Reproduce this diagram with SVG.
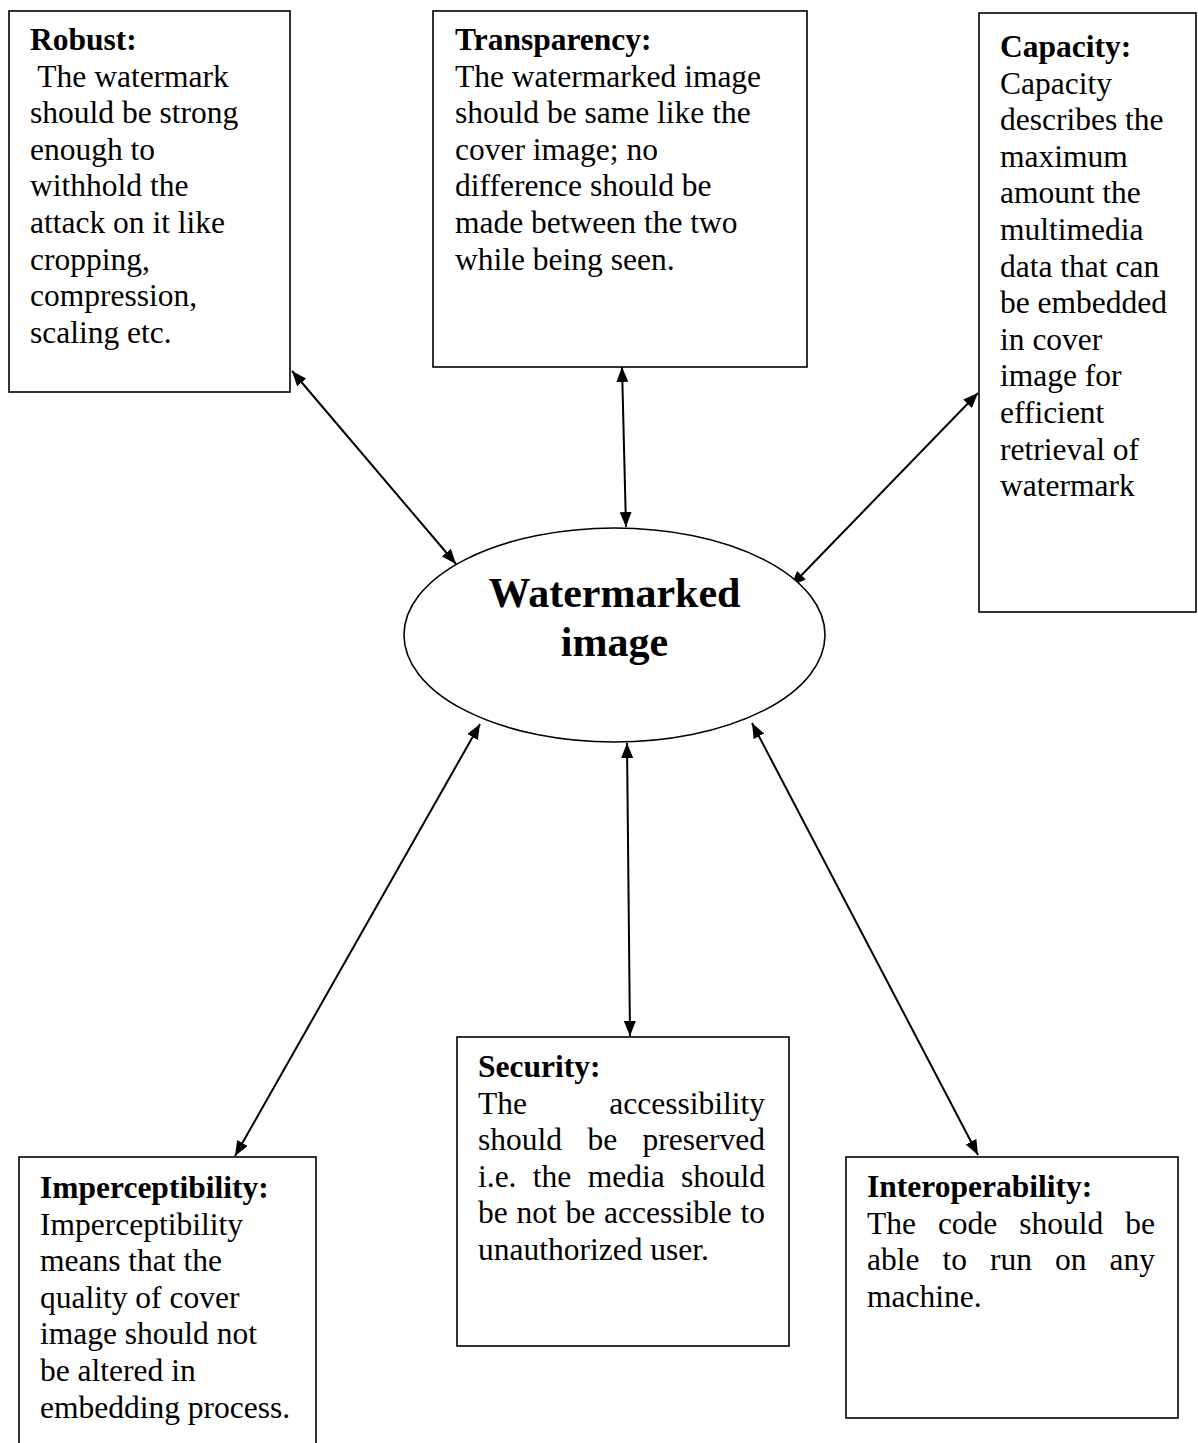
<svg xmlns="http://www.w3.org/2000/svg" width="1198" height="1443" viewBox="0 0 1198 1443">
<style>
  .box { fill: #fff; stroke: #000; stroke-width: 1.6; }
  .t { font-family: "Liberation Serif", "Times New Roman", serif; font-size: 31.5px; fill: #000; }
  .b { font-weight: bold; }
  .big { font-family: "Liberation Serif", "Times New Roman", serif; font-size: 42px; font-weight: bold; fill: #000; text-anchor: middle; }
  .conn { stroke: #000; stroke-width: 2; fill: none; marker-start: url(#ah); marker-end: url(#ah); }
</style>
<defs>
  <marker id="ah" markerUnits="userSpaceOnUse" markerWidth="15" markerHeight="12" viewBox="0 0 15 12" refX="15" refY="6" orient="auto-start-reverse">
    <path d="M0,0 L15,6 L0,12 Z" fill="#000"/>
  </marker>
</defs>
<rect width="1198" height="1443" fill="#fff"/>

<g id="connectors">
  <line class="conn" x1="292" y1="371" x2="456" y2="564"/>
  <line class="conn" x1="622" y1="367" x2="626" y2="527"/>
  <line class="conn" x1="978" y1="393" x2="791" y2="586"/>
  <line class="conn" x1="235" y1="1156" x2="480" y2="724"/>
  <line class="conn" x1="627" y1="743" x2="630" y2="1036"/>
  <line class="conn" x1="752" y1="723" x2="978" y2="1155"/>
</g>

<g id="robust">
  <rect class="box" x="9" y="11" width="281" height="381"/>
  <text class="t"><tspan class="b" x="30" y="50">Robust:</tspan><tspan x="30" y="86.6" xml:space="preserve"> The watermark</tspan><tspan x="30" y="123.2">should be strong</tspan><tspan x="30" y="159.8">enough to</tspan><tspan x="30" y="196.4">withhold the</tspan><tspan x="30" y="233">attack on it like</tspan><tspan x="30" y="269.6">cropping,</tspan><tspan x="30" y="306.2">compression,</tspan><tspan x="30" y="342.8">scaling etc.</tspan></text>
</g>

<g id="transparency">
  <rect class="box" x="433" y="11" width="374" height="356"/>
  <text class="t"><tspan class="b" x="455" y="50">Transparency:</tspan><tspan x="455" y="86.6">The watermarked image</tspan><tspan x="455" y="123.2">should be same like the</tspan><tspan x="455" y="159.8">cover image; no</tspan><tspan x="455" y="196.4">difference should be</tspan><tspan x="455" y="233">made between the two</tspan><tspan x="455" y="269.6">while being seen.</tspan></text>
</g>

<g id="capacity">
  <rect class="box" x="979" y="13" width="217" height="599"/>
  <text class="t"><tspan class="b" x="1000" y="57">Capacity:</tspan><tspan x="1000" y="93.6">Capacity</tspan><tspan x="1000" y="130.2">describes the</tspan><tspan x="1000" y="166.8">maximum</tspan><tspan x="1000" y="203.4">amount the</tspan><tspan x="1000" y="240">multimedia</tspan><tspan x="1000" y="276.6">data that can</tspan><tspan x="1000" y="313.2">be embedded</tspan><tspan x="1000" y="349.8">in cover</tspan><tspan x="1000" y="386.4">image for</tspan><tspan x="1000" y="423">efficient</tspan><tspan x="1000" y="459.6">retrieval of</tspan><tspan x="1000" y="496.2">watermark</tspan></text>
</g>

<g id="watermarked-image">
  <ellipse cx="614.5" cy="635" rx="210.5" ry="107" fill="#fff" stroke="#000" stroke-width="1.6"/>
  <text class="big" x="614.5" y="607">Watermarked</text>
  <text class="big" x="614.5" y="656">image</text>
</g>

<g id="imperceptibility">
  <rect class="box" x="19" y="1157" width="297" height="300"/>
  <text class="t"><tspan class="b" x="40" y="1198">Imperceptibility:</tspan><tspan x="40" y="1234.6">Imperceptibility</tspan><tspan x="40" y="1271.2">means that the</tspan><tspan x="40" y="1307.8">quality of cover</tspan><tspan x="40" y="1344.4">image should not</tspan><tspan x="40" y="1381">be altered in</tspan><tspan x="40" y="1417.6">embedding process.</tspan></text>
</g>

<g id="security">
  <rect class="box" x="457" y="1037" width="332" height="309"/>
  <text class="t b" x="478" y="1077">Security:</text>
  <text class="t" y="1113.6"><tspan x="478">The</tspan></text>
  <text class="t" y="1113.6" x="765" text-anchor="end">accessibility</text>
  <text class="t" y="1150.2"><tspan x="478">should</tspan><tspan x="587.4">be</tspan></text>
  <text class="t" y="1150.2" x="765" text-anchor="end">preserved</text>
  <text class="t" y="1186.8"><tspan x="478">i.e.</tspan><tspan x="532.8">the</tspan><tspan x="587.7">media</tspan></text>
  <text class="t" y="1186.8" x="765" text-anchor="end">should</text>
  <text class="t" y="1223.4"><tspan x="478">be</tspan><tspan x="516.5">not</tspan><tspan x="565.6">be</tspan><tspan x="604.1">accessible</tspan></text>
  <text class="t" y="1223.4" x="765" text-anchor="end">to</text>
  <text class="t" x="478" y="1260">unauthorized user.</text>
</g>

<g id="interoperability">
  <rect class="box" x="846" y="1157" width="332" height="261"/>
  <text class="t b" x="867" y="1197">Interoperability:</text>
  <text class="t" y="1233.6"><tspan x="867">The</tspan><tspan x="937.9">code</tspan><tspan x="1019.3">should</tspan></text>
  <text class="t" y="1233.6" x="1155" text-anchor="end">be</text>
  <text class="t" y="1270.2"><tspan x="867">able</tspan><tspan x="942.5">to</tspan><tspan x="990">run</tspan><tspan x="1055">on</tspan></text>
  <text class="t" y="1270.2" x="1155" text-anchor="end">any</text>
  <text class="t" x="867" y="1306.8">machine.</text>
</g>
</svg>
